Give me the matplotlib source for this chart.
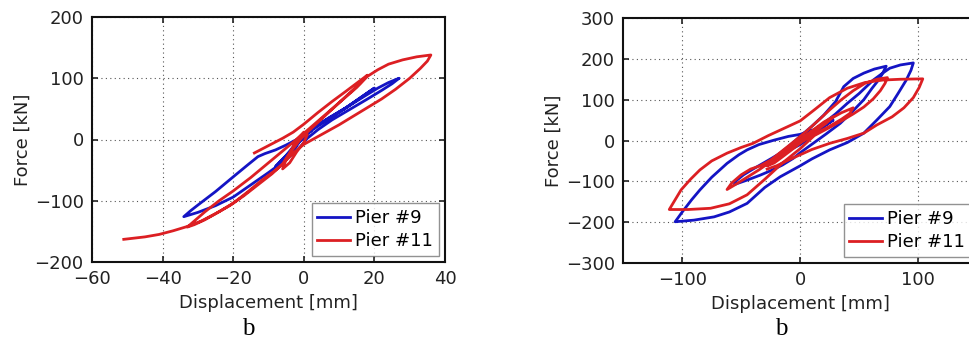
import matplotlib
matplotlib.use("Agg")
import matplotlib.pyplot as plt

# ---------------- data (left panel) ----------------
left_p9_disp = [0, 1, 2, 1, -1, -3, -5, -7, -8,
                -7, -5, -3, -1, 1, 4, 8, 12, 16, 20,
                18, 15, 12, 8, 4, 1, -2, -5, -8,
                -6, -3, 0, 3, 7, 12, 17, 21, 24, 27,
                25, 22, 18, 13, 8, 4, 1, -1, -5, -10, -15, -20, -25, -30, -34,
                -32, -30, -25, -20, -16, -13, -11, -8, -5, -2, 0, 2]
left_p9_force = [0, 8, 14, 11, 2, -12, -26, -38, -45,
                 -41, -30, -17, -2, 12, 24, 38, 52, 68, 84,
                 76, 64, 52, 37, 22, 10, -8, -27, -44,
                 -35, -17, 6, 20, 35, 52, 70, 84, 93, 100,
                 91, 80, 66, 49, 32, 16, 2, -12, -33, -54, -74, -94, -108, -119, -126,
                 -116, -107, -85, -61, -42, -28, -23, -17, -9, 0, 6, 14]

left_p11_disp = [-14, -10, -6, -3, 0, 4, 8, 12, 15, 18,
                 16, 13, 10, 7, 4, 1, -1, -3, -5, -6, -4, -2, 0, 1, 0, -2, -4, -6, -8,
                 -12, -16, -20, -24, -28, -31, -33,
                 -31, -28, -24, -20, -15, -10, -5, 0, 5, 10, 15, 18, 21, 24, 28, 32, 36,
                 35, 33, 30, 26, 22, 18, 14, 10, 5, 0, -3, -6, -9, -13, -17, -21, -25,
                 -29, -33, -37, -41, -45, -51]
left_p11_force = [-22, -10, 2, 12, 25, 44, 62, 79, 92, 105,
                  92, 76, 60, 44, 28, 12, 0, -15, -32, -48, -38, -20, -5, 8, 12, 0, -22, -40, -50,
                  -67, -86, -104, -118, -131, -139, -143,
                  -133, -118, -100, -84, -62, -38, -14, 10, 35, 60, 85, 103, 114, 123, 130, 135, 138,
                  128, 116, 100, 82, 66, 52, 38, 24, 8, -8, -22, -40, -56, -74, -92, -108, -121,
                  -133, -142, -149, -155, -159, -163]

# ---------------- data (right panel) ----------------
right_p9_disp = [0, 10, 20, 28, 22, 10, 0, -10, -20, -25,
                 -20, -10, 0, 10, 20, 30, 37, 45, 54, 63, 73,
                 70, 67, 61, 54, 44, 34, 22, 11, 0, -6, -15, -25, -34, -45, -52, -56,
                 -54, -48, -40, -34, -25, -15, -5, 5, 15, 20, 30, 40, 50, 62, 70, 76, 85, 96,
                 94, 90, 83, 76, 65, 54, 40, 25, 10, 0, -17, -30, -45, -60, -73, -90, -106,
                 -100, -92, -85, -75, -62, -52, -45, -35, -22, -10, 0, 10]
right_p9_force = [0, 18, 35, 50, 38, 10, -10, -25, -42, -50,
                  -38, -15, 10, 35, 62, 95, 132, 152, 165, 175, 182,
                  165, 150, 128, 100, 70, 42, 16, -7, -30, -44, -60, -74, -85, -97, -104, -108,
                  -98, -84, -70, -60, -45, -28, -10, 10, 30, 42, 65, 91, 115, 148, 165, 177, 185, 190,
                  172, 148, 115, 83, 50, 18, -5, -23, -45, -62, -89, -115, -154, -175, -187, -195, -199,
                  -175, -145, -121, -90, -56, -35, -23, -10, 1, 10, 15, 25]

right_p11_disp = [0, 5, 12, 18, 12, 4, -5, -12, -18, -12, -4, 4, 12, 20, 28, 22, 14, 5,
                  -5, -15, -22, -28, -22, -14, -5, 5, 15, 25, 35, 45,
                  42, 35, 25, 12, 0, -12, -25, -35, -45, -55, -62,
                  -58, -50, -42, -34, -25, -15, -5, 5, 15, 25, 35, 45, 55, 65, 74,
                  72, 68, 62, 54, 45, 35, 25, 12, 0, -15, -30, -45, -60, -76, -95, -111,
                  -106, -101, -93, -85, -75, -62, -50, -40, -27, -15, 0, 12, 25, 40, 55, 70, 85, 104,
                  101, 96, 88, 78, 65, 54, 40, 25, 10, 0, -10, -20, -28]
right_p11_force = [0, 12, 25, 38, 22, 5, -12, -28, -42, -30, -10, 10, 28, 45, 58, 42, 25, 5,
                   -18, -40, -55, -62, -48, -30, -10, 12, 32, 52, 68, 80,
                   66, 52, 35, 15, -5, -28, -52, -72, -90, -108, -120,
                   -104, -84, -70, -62, -48, -25, -2, 22, 48, 75, 100, 122, 140, 150, 154,
                   140, 122, 102, 82, 65, 48, 32, 12, -20, -55, -95, -133, -155, -166, -169, -169,
                   -145, -121, -95, -72, -50, -31, -17, -7, 12, 28, 48, 75, 105, 128, 142, 148, 150, 151,
                   130, 105, 80, 58, 38, 18, 5, -7, -22, -35, -48, -62, -70]

legend_labels = ["Pier #9", "Pier #11"]
blue = "#1414c4"
red = "#dc1f23"

fig = plt.figure(figsize=(9.69, 3.41), dpi=100)

panels = [
    dict(pos=[92/969, 79/341, 353/969, 245/341], xlim=(-60, 40), ylim=(-200, 200),
         xt=[-60, -40, -20, 0, 20, 40], yt=[-200, -100, 0, 100, 200],
         d9=(left_p9_disp, left_p9_force), d11=(left_p11_disp, left_p11_force), capx=248/969),
    dict(pos=[623.3/969, 78/341, 353.7/969, 245/341], xlim=(-150, 150), ylim=(-300, 300),
         xt=[-100, 0, 100], yt=[-300, -200, -100, 0, 100, 200, 300],
         d9=(right_p9_disp, right_p9_force), d11=(right_p11_disp, right_p11_force), capx=781/969),
]

for p in panels:
    ax = fig.add_axes(p["pos"])
    ax.plot(p["d9"][0], p["d9"][1], color=blue, lw=2.0, label=legend_labels[0])
    ax.plot(p["d11"][0], p["d11"][1], color=red, lw=2.0, label=legend_labels[1])
    ax.set_xlim(*p["xlim"])
    ax.set_ylim(*p["ylim"])
    ax.set_xticks(p["xt"])
    ax.set_yticks(p["yt"])
    ax.grid(True, linestyle=(0, (1, 3)), color="#555555", linewidth=0.8)
    ax.tick_params(direction="in", top=True, right=True, length=4, width=1.2,
                   labelsize=13, pad=6, colors="#222222")
    for s in ax.spines.values():
        s.set_linewidth(1.5)
        s.set_color("#111111")
    ax.set_xlabel("Displacement [mm]", fontsize=13, labelpad=4, color="#222222")
    ax.set_ylabel("Force [kN]", fontsize=13, labelpad=2, color="#222222")
    leg = ax.legend(loc="lower right", fontsize=13, frameon=True, fancybox=False,
                    edgecolor="#777777", borderaxespad=0.35, handlelength=1.8,
                    handletextpad=0.3, labelspacing=0.3, borderpad=0.3)
    leg.get_frame().set_linewidth(1.0)
    fig.text(p["capx"], 1 - 329/341, "b", ha="center", va="center",
             fontsize=18, family="Liberation Serif")

fig.savefig("out.png", dpi=100)
